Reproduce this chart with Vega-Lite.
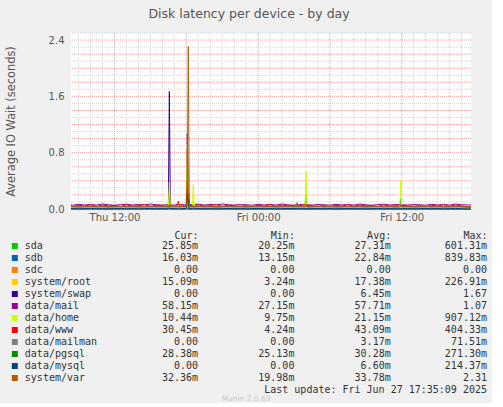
{
  "$schema": "https://vega.github.io/schema/vega-lite/v6.json",
  "background": "#F0F0F0",
  "padding": {"left": 5, "top": 8, "right": 5, "bottom": 0},
  "spacing": 8,
  "title": {
    "text": "Munin 2.0.63",
    "orient": "bottom",
    "anchor": "middle",
    "font": "DejaVu Sans",
    "fontSize": 7.5,
    "fontWeight": "normal",
    "color": "#C8C8C8",
    "offset": 0
  },
  "config": {"view": {"stroke": null}},
  "datasets": {
    "series": [
      {"t":"2025-06-26T08:22","sda":0.027,"sdb":0.020,"sdc":0,"root":0.016,"swap":0,"mail":0.060,"home":0.020,"www":0.048,"mailman":0.002,"pgsql":0.030,"mysql":0.004,"var":0.034},
      {"t":"2025-06-26T08:30","sda":0.026,"sdb":0.018,"sdc":0,"root":0.018,"swap":0,"mail":0.055,"home":0.022,"www":0.035,"mailman":0.001,"pgsql":0.031,"mysql":0.006,"var":0.036},
      {"t":"2025-06-26T09:00","sda":0.028,"sdb":0.021,"sdc":0,"root":0.015,"swap":0,"mail":0.066,"home":0.019,"www":0.052,"mailman":0.002,"pgsql":0.029,"mysql":0.003,"var":0.033},
      {"t":"2025-06-26T09:30","sda":0.027,"sdb":0.019,"sdc":0,"root":0.017,"swap":0,"mail":0.058,"home":0.021,"www":0.041,"mailman":0.002,"pgsql":0.030,"mysql":0.005,"var":0.035},
      {"t":"2025-06-26T10:00","sda":0.029,"sdb":0.022,"sdc":0,"root":0.019,"swap":0.001,"mail":0.063,"home":0.023,"www":0.060,"mailman":0.003,"pgsql":0.032,"mysql":0.008,"var":0.037},
      {"t":"2025-06-26T10:30","sda":0.027,"sdb":0.020,"sdc":0,"root":0.016,"swap":0,"mail":0.056,"home":0.020,"www":0.038,"mailman":0.002,"pgsql":0.030,"mysql":0.004,"var":0.034},
      {"t":"2025-06-26T11:00","sda":0.026,"sdb":0.018,"sdc":0,"root":0.018,"swap":0,"mail":0.071,"home":0.022,"www":0.055,"mailman":0.001,"pgsql":0.031,"mysql":0.006,"var":0.036},
      {"t":"2025-06-26T11:30","sda":0.028,"sdb":0.021,"sdc":0,"root":0.015,"swap":0,"mail":0.060,"home":0.019,"www":0.044,"mailman":0.002,"pgsql":0.029,"mysql":0.003,"var":0.033},
      {"t":"2025-06-26T12:00","sda":0.027,"sdb":0.019,"sdc":0,"root":0.017,"swap":0,"mail":0.054,"home":0.021,"www":0.050,"mailman":0.002,"pgsql":0.030,"mysql":0.005,"var":0.035},
      {"t":"2025-06-26T12:30","sda":0.029,"sdb":0.022,"sdc":0,"root":0.019,"swap":0,"mail":0.062,"home":0.023,"www":0.036,"mailman":0.003,"pgsql":0.032,"mysql":0.008,"var":0.037},
      {"t":"2025-06-26T13:00","sda":0.027,"sdb":0.020,"sdc":0,"root":0.016,"swap":0,"mail":0.068,"home":0.020,"www":0.058,"mailman":0.002,"pgsql":0.030,"mysql":0.004,"var":0.034},
      {"t":"2025-06-26T13:30","sda":0.026,"sdb":0.018,"sdc":0,"root":0.018,"swap":0,"mail":0.057,"home":0.022,"www":0.042,"mailman":0.001,"pgsql":0.031,"mysql":0.006,"var":0.036},
      {"t":"2025-06-26T14:00","sda":0.028,"sdb":0.021,"sdc":0,"root":0.015,"swap":0,"mail":0.064,"home":0.019,"www":0.047,"mailman":0.002,"pgsql":0.029,"mysql":0.003,"var":0.033},
      {"t":"2025-06-26T14:30","sda":0.027,"sdb":0.019,"sdc":0,"root":0.017,"swap":0,"mail":0.059,"home":0.021,"www":0.062,"mailman":0.002,"pgsql":0.030,"mysql":0.005,"var":0.035},
      {"t":"2025-06-26T15:00","sda":0.029,"sdb":0.022,"sdc":0,"root":0.019,"swap":0,"mail":0.070,"home":0.023,"www":0.039,"mailman":0.003,"pgsql":0.032,"mysql":0.008,"var":0.037},
      {"t":"2025-06-26T15:30","sda":0.027,"sdb":0.020,"sdc":0,"root":0.016,"swap":0,"mail":0.061,"home":0.020,"www":0.053,"mailman":0.002,"pgsql":0.030,"mysql":0.004,"var":0.034},
      {"t":"2025-06-26T16:00","sda":0.026,"sdb":0.018,"sdc":0,"root":0.018,"swap":0,"mail":0.056,"home":0.022,"www":0.045,"mailman":0.001,"pgsql":0.031,"mysql":0.006,"var":0.036},
      {"t":"2025-06-26T16:30","sda":0.028,"sdb":0.021,"sdc":0,"root":0.015,"swap":0,"mail":0.063,"home":0.019,"www":0.040,"mailman":0.002,"pgsql":0.029,"mysql":0.003,"var":0.033},
      {"t":"2025-06-26T16:35","sda":0.200,"sdb":0.050,"sdc":0,"root":0.030,"swap":1.670,"mail":0.080,"home":0.380,"www":0.060,"mailman":0.005,"pgsql":0.040,"mysql":0.010,"var":0.050},
      {"t":"2025-06-26T16:40","sda":0.027,"sdb":0.019,"sdc":0,"root":0.017,"swap":0,"mail":0.060,"home":0.021,"www":0.048,"mailman":0.002,"pgsql":0.030,"mysql":0.005,"var":0.035},
      {"t":"2025-06-26T17:00","sda":0.029,"sdb":0.022,"sdc":0,"root":0.019,"swap":0,"mail":0.055,"home":0.023,"www":0.035,"mailman":0.003,"pgsql":0.032,"mysql":0.008,"var":0.037},
      {"t":"2025-06-26T17:15","sda":0.027,"sdb":0.020,"sdc":0,"root":0.016,"swap":0,"mail":0.066,"home":0.020,"www":0.052,"mailman":0.002,"pgsql":0.030,"mysql":0.004,"var":0.034},
      {"t":"2025-06-26T17:20","sda":0.026,"sdb":0.018,"sdc":0,"root":0.018,"swap":0,"mail":0.062,"home":0.022,"www":0.110,"mailman":0.001,"pgsql":0.031,"mysql":0.006,"var":0.036},
      {"t":"2025-06-26T17:25","sda":0.028,"sdb":0.021,"sdc":0,"root":0.015,"swap":0,"mail":0.058,"home":0.019,"www":0.041,"mailman":0.002,"pgsql":0.029,"mysql":0.003,"var":0.033},
      {"t":"2025-06-26T17:30","sda":0.027,"sdb":0.019,"sdc":0,"root":0.017,"swap":0,"mail":0.063,"home":0.021,"www":0.060,"mailman":0.002,"pgsql":0.030,"mysql":0.005,"var":0.035},
      {"t":"2025-06-26T18:00","sda":0.029,"sdb":0.022,"sdc":0,"root":0.019,"swap":0,"mail":0.056,"home":0.023,"www":0.038,"mailman":0.003,"pgsql":0.032,"mysql":0.008,"var":0.037},
      {"t":"2025-06-26T18:05","sda":0.601,"sdb":0.840,"sdc":0,"root":0.227,"swap":0.010,"mail":1.070,"home":0.907,"www":0.404,"mailman":0.072,"pgsql":0.271,"mysql":0.214,"var":0.300},
      {"t":"2025-06-26T18:10","sda":0.100,"sdb":0.080,"sdc":0,"root":0.050,"swap":0,"mail":0.300,"home":0.200,"www":0.150,"mailman":0.010,"pgsql":0.080,"mysql":0.040,"var":2.310},
      {"t":"2025-06-26T18:15","sda":0.027,"sdb":0.020,"sdc":0,"root":0.016,"swap":0,"mail":0.071,"home":0.020,"www":0.055,"mailman":0.002,"pgsql":0.030,"mysql":0.004,"var":0.034},
      {"t":"2025-06-26T18:30","sda":0.026,"sdb":0.018,"sdc":0,"root":0.018,"swap":0,"mail":0.060,"home":0.022,"www":0.044,"mailman":0.001,"pgsql":0.031,"mysql":0.006,"var":0.036},
      {"t":"2025-06-26T18:35","sda":0.028,"sdb":0.021,"sdc":0,"root":0.015,"swap":0,"mail":0.054,"home":0.350,"www":0.050,"mailman":0.002,"pgsql":0.029,"mysql":0.003,"var":0.033},
      {"t":"2025-06-26T18:40","sda":0.027,"sdb":0.019,"sdc":0,"root":0.017,"swap":0,"mail":0.062,"home":0.021,"www":0.036,"mailman":0.002,"pgsql":0.030,"mysql":0.005,"var":0.035},
      {"t":"2025-06-26T19:00","sda":0.029,"sdb":0.022,"sdc":0,"root":0.019,"swap":0,"mail":0.068,"home":0.023,"www":0.058,"mailman":0.003,"pgsql":0.032,"mysql":0.008,"var":0.037},
      {"t":"2025-06-26T19:30","sda":0.027,"sdb":0.020,"sdc":0,"root":0.016,"swap":0,"mail":0.057,"home":0.020,"www":0.042,"mailman":0.002,"pgsql":0.030,"mysql":0.004,"var":0.034},
      {"t":"2025-06-26T20:00","sda":0.026,"sdb":0.018,"sdc":0,"root":0.018,"swap":0,"mail":0.064,"home":0.022,"www":0.047,"mailman":0.001,"pgsql":0.031,"mysql":0.006,"var":0.036},
      {"t":"2025-06-26T20:30","sda":0.028,"sdb":0.021,"sdc":0,"root":0.015,"swap":0,"mail":0.059,"home":0.019,"www":0.062,"mailman":0.002,"pgsql":0.029,"mysql":0.003,"var":0.033},
      {"t":"2025-06-26T21:00","sda":0.027,"sdb":0.019,"sdc":0,"root":0.017,"swap":0,"mail":0.070,"home":0.021,"www":0.039,"mailman":0.002,"pgsql":0.030,"mysql":0.005,"var":0.035},
      {"t":"2025-06-26T21:30","sda":0.029,"sdb":0.022,"sdc":0,"root":0.019,"swap":0,"mail":0.061,"home":0.023,"www":0.053,"mailman":0.003,"pgsql":0.032,"mysql":0.008,"var":0.037},
      {"t":"2025-06-26T22:00","sda":0.027,"sdb":0.020,"sdc":0,"root":0.016,"swap":0,"mail":0.056,"home":0.020,"www":0.045,"mailman":0.002,"pgsql":0.030,"mysql":0.004,"var":0.034},
      {"t":"2025-06-26T22:30","sda":0.026,"sdb":0.018,"sdc":0,"root":0.018,"swap":0,"mail":0.063,"home":0.022,"www":0.040,"mailman":0.001,"pgsql":0.031,"mysql":0.006,"var":0.036},
      {"t":"2025-06-26T23:00","sda":0.028,"sdb":0.021,"sdc":0,"root":0.015,"swap":0,"mail":0.060,"home":0.019,"www":0.048,"mailman":0.002,"pgsql":0.029,"mysql":0.003,"var":0.033},
      {"t":"2025-06-26T23:30","sda":0.027,"sdb":0.019,"sdc":0,"root":0.017,"swap":0,"mail":0.055,"home":0.021,"www":0.035,"mailman":0.002,"pgsql":0.030,"mysql":0.005,"var":0.035},
      {"t":"2025-06-27T00:00","sda":0.029,"sdb":0.022,"sdc":0,"root":0.019,"swap":0,"mail":0.066,"home":0.023,"www":0.052,"mailman":0.003,"pgsql":0.032,"mysql":0.008,"var":0.037},
      {"t":"2025-06-27T00:30","sda":0.027,"sdb":0.020,"sdc":0,"root":0.016,"swap":0,"mail":0.058,"home":0.020,"www":0.041,"mailman":0.002,"pgsql":0.030,"mysql":0.004,"var":0.034},
      {"t":"2025-06-27T01:00","sda":0.026,"sdb":0.018,"sdc":0,"root":0.018,"swap":0,"mail":0.063,"home":0.022,"www":0.060,"mailman":0.001,"pgsql":0.031,"mysql":0.006,"var":0.036},
      {"t":"2025-06-27T01:30","sda":0.028,"sdb":0.021,"sdc":0,"root":0.015,"swap":0,"mail":0.056,"home":0.019,"www":0.038,"mailman":0.002,"pgsql":0.029,"mysql":0.003,"var":0.033},
      {"t":"2025-06-27T02:00","sda":0.027,"sdb":0.019,"sdc":0,"root":0.017,"swap":0,"mail":0.071,"home":0.021,"www":0.055,"mailman":0.002,"pgsql":0.030,"mysql":0.005,"var":0.035},
      {"t":"2025-06-27T02:30","sda":0.029,"sdb":0.022,"sdc":0,"root":0.019,"swap":0,"mail":0.060,"home":0.023,"www":0.044,"mailman":0.003,"pgsql":0.032,"mysql":0.008,"var":0.037},
      {"t":"2025-06-27T03:00","sda":0.027,"sdb":0.020,"sdc":0,"root":0.016,"swap":0,"mail":0.054,"home":0.020,"www":0.050,"mailman":0.002,"pgsql":0.030,"mysql":0.004,"var":0.034},
      {"t":"2025-06-27T03:10","sda":0.026,"sdb":0.018,"sdc":0,"root":0.018,"swap":0,"mail":0.062,"home":0.022,"www":0.036,"mailman":0.001,"pgsql":0.031,"mysql":0.006,"var":0.036},
      {"t":"2025-06-27T03:15","sda":0.028,"sdb":0.021,"sdc":0,"root":0.015,"swap":0,"mail":0.068,"home":0.019,"www":0.058,"mailman":0.002,"pgsql":0.029,"mysql":0.003,"var":0.090},
      {"t":"2025-06-27T03:20","sda":0.027,"sdb":0.019,"sdc":0,"root":0.017,"swap":0,"mail":0.057,"home":0.021,"www":0.042,"mailman":0.002,"pgsql":0.030,"mysql":0.005,"var":0.035},
      {"t":"2025-06-27T03:30","sda":0.029,"sdb":0.022,"sdc":0,"root":0.019,"swap":0,"mail":0.064,"home":0.023,"www":0.047,"mailman":0.003,"pgsql":0.032,"mysql":0.008,"var":0.037},
      {"t":"2025-06-27T03:55","sda":0.027,"sdb":0.020,"sdc":0,"root":0.016,"swap":0,"mail":0.059,"home":0.020,"www":0.062,"mailman":0.002,"pgsql":0.030,"mysql":0.004,"var":0.034},
      {"t":"2025-06-27T04:00","sda":0.200,"sdb":0.030,"sdc":0,"root":0.030,"swap":0,"mail":0.070,"home":0.540,"www":0.050,"mailman":0.002,"pgsql":0.040,"mysql":0.006,"var":0.040},
      {"t":"2025-06-27T04:05","sda":0.028,"sdb":0.021,"sdc":0,"root":0.015,"swap":0,"mail":0.061,"home":0.019,"www":0.053,"mailman":0.002,"pgsql":0.029,"mysql":0.003,"var":0.033},
      {"t":"2025-06-27T04:30","sda":0.027,"sdb":0.019,"sdc":0,"root":0.017,"swap":0,"mail":0.056,"home":0.021,"www":0.045,"mailman":0.002,"pgsql":0.030,"mysql":0.005,"var":0.035},
      {"t":"2025-06-27T05:00","sda":0.029,"sdb":0.022,"sdc":0,"root":0.019,"swap":0,"mail":0.063,"home":0.023,"www":0.040,"mailman":0.003,"pgsql":0.032,"mysql":0.008,"var":0.037},
      {"t":"2025-06-27T05:30","sda":0.027,"sdb":0.020,"sdc":0,"root":0.016,"swap":0,"mail":0.060,"home":0.020,"www":0.048,"mailman":0.002,"pgsql":0.030,"mysql":0.004,"var":0.034},
      {"t":"2025-06-27T06:00","sda":0.026,"sdb":0.018,"sdc":0,"root":0.018,"swap":0,"mail":0.055,"home":0.022,"www":0.035,"mailman":0.001,"pgsql":0.031,"mysql":0.006,"var":0.036},
      {"t":"2025-06-27T06:30","sda":0.028,"sdb":0.021,"sdc":0,"root":0.015,"swap":0,"mail":0.066,"home":0.019,"www":0.052,"mailman":0.002,"pgsql":0.029,"mysql":0.003,"var":0.033},
      {"t":"2025-06-27T07:00","sda":0.027,"sdb":0.019,"sdc":0,"root":0.017,"swap":0,"mail":0.058,"home":0.021,"www":0.041,"mailman":0.002,"pgsql":0.030,"mysql":0.005,"var":0.035},
      {"t":"2025-06-27T07:30","sda":0.029,"sdb":0.022,"sdc":0,"root":0.019,"swap":0,"mail":0.063,"home":0.023,"www":0.060,"mailman":0.003,"pgsql":0.032,"mysql":0.008,"var":0.037},
      {"t":"2025-06-27T08:00","sda":0.027,"sdb":0.020,"sdc":0,"root":0.016,"swap":0,"mail":0.056,"home":0.020,"www":0.038,"mailman":0.002,"pgsql":0.030,"mysql":0.004,"var":0.034},
      {"t":"2025-06-27T08:30","sda":0.026,"sdb":0.018,"sdc":0,"root":0.018,"swap":0,"mail":0.071,"home":0.022,"www":0.055,"mailman":0.001,"pgsql":0.031,"mysql":0.006,"var":0.036},
      {"t":"2025-06-27T09:00","sda":0.028,"sdb":0.021,"sdc":0,"root":0.015,"swap":0,"mail":0.060,"home":0.019,"www":0.044,"mailman":0.002,"pgsql":0.029,"mysql":0.003,"var":0.033},
      {"t":"2025-06-27T09:30","sda":0.027,"sdb":0.019,"sdc":0,"root":0.017,"swap":0,"mail":0.054,"home":0.021,"www":0.050,"mailman":0.002,"pgsql":0.030,"mysql":0.005,"var":0.035},
      {"t":"2025-06-27T10:00","sda":0.029,"sdb":0.022,"sdc":0,"root":0.019,"swap":0,"mail":0.062,"home":0.023,"www":0.036,"mailman":0.003,"pgsql":0.032,"mysql":0.008,"var":0.037},
      {"t":"2025-06-27T10:30","sda":0.027,"sdb":0.020,"sdc":0,"root":0.016,"swap":0,"mail":0.068,"home":0.020,"www":0.058,"mailman":0.002,"pgsql":0.030,"mysql":0.004,"var":0.034},
      {"t":"2025-06-27T11:00","sda":0.026,"sdb":0.018,"sdc":0,"root":0.018,"swap":0,"mail":0.057,"home":0.022,"www":0.042,"mailman":0.001,"pgsql":0.031,"mysql":0.006,"var":0.036},
      {"t":"2025-06-27T11:30","sda":0.028,"sdb":0.021,"sdc":0,"root":0.015,"swap":0,"mail":0.064,"home":0.019,"www":0.047,"mailman":0.002,"pgsql":0.029,"mysql":0.003,"var":0.033},
      {"t":"2025-06-27T11:50","sda":0.027,"sdb":0.019,"sdc":0,"root":0.017,"swap":0,"mail":0.059,"home":0.021,"www":0.062,"mailman":0.002,"pgsql":0.030,"mysql":0.005,"var":0.035},
      {"t":"2025-06-27T11:55","sda":0.150,"sdb":0.030,"sdc":0,"root":0.030,"swap":0,"mail":0.070,"home":0.410,"www":0.050,"mailman":0.002,"pgsql":0.040,"mysql":0.006,"var":0.040},
      {"t":"2025-06-27T12:00","sda":0.027,"sdb":0.020,"sdc":0,"root":0.016,"swap":0,"mail":0.061,"home":0.020,"www":0.053,"mailman":0.002,"pgsql":0.030,"mysql":0.004,"var":0.034},
      {"t":"2025-06-27T12:30","sda":0.026,"sdb":0.018,"sdc":0,"root":0.018,"swap":0,"mail":0.056,"home":0.022,"www":0.045,"mailman":0.001,"pgsql":0.031,"mysql":0.006,"var":0.036},
      {"t":"2025-06-27T13:00","sda":0.028,"sdb":0.021,"sdc":0,"root":0.015,"swap":0,"mail":0.063,"home":0.019,"www":0.040,"mailman":0.002,"pgsql":0.029,"mysql":0.003,"var":0.033},
      {"t":"2025-06-27T13:30","sda":0.027,"sdb":0.019,"sdc":0,"root":0.017,"swap":0,"mail":0.060,"home":0.021,"www":0.048,"mailman":0.002,"pgsql":0.030,"mysql":0.005,"var":0.035},
      {"t":"2025-06-27T14:00","sda":0.029,"sdb":0.022,"sdc":0,"root":0.019,"swap":0,"mail":0.055,"home":0.023,"www":0.035,"mailman":0.003,"pgsql":0.032,"mysql":0.008,"var":0.037},
      {"t":"2025-06-27T14:30","sda":0.027,"sdb":0.020,"sdc":0,"root":0.016,"swap":0,"mail":0.066,"home":0.020,"www":0.052,"mailman":0.002,"pgsql":0.030,"mysql":0.004,"var":0.034},
      {"t":"2025-06-27T15:00","sda":0.026,"sdb":0.018,"sdc":0,"root":0.018,"swap":0,"mail":0.058,"home":0.022,"www":0.041,"mailman":0.001,"pgsql":0.031,"mysql":0.006,"var":0.036},
      {"t":"2025-06-27T15:30","sda":0.028,"sdb":0.021,"sdc":0,"root":0.015,"swap":0,"mail":0.063,"home":0.019,"www":0.060,"mailman":0.002,"pgsql":0.029,"mysql":0.003,"var":0.033},
      {"t":"2025-06-27T16:00","sda":0.027,"sdb":0.019,"sdc":0,"root":0.017,"swap":0,"mail":0.056,"home":0.021,"www":0.038,"mailman":0.002,"pgsql":0.030,"mysql":0.005,"var":0.035},
      {"t":"2025-06-27T16:30","sda":0.029,"sdb":0.022,"sdc":0,"root":0.019,"swap":0,"mail":0.071,"home":0.023,"www":0.055,"mailman":0.003,"pgsql":0.032,"mysql":0.008,"var":0.037},
      {"t":"2025-06-27T17:00","sda":0.027,"sdb":0.020,"sdc":0,"root":0.016,"swap":0,"mail":0.060,"home":0.020,"www":0.044,"mailman":0.002,"pgsql":0.030,"mysql":0.004,"var":0.034},
      {"t":"2025-06-27T17:35","sda":0.026,"sdb":0.016,"sdc":0,"root":0.015,"swap":0,"mail":0.058,"home":0.010,"www":0.030,"mailman":0,"pgsql":0.028,"mysql":0,"var":0.032},
      {"t":"2025-06-27T17:47","sda":0.026,"sdb":0.016,"sdc":0,"root":0.015,"swap":0,"mail":0.058,"home":0.010,"www":0.030,"mailman":0,"pgsql":0.028,"mysql":0,"var":0.032}
    ],
    "minorx": [
      {"t":"2025-06-26T09:00"}, {"t":"2025-06-26T10:00"}, {"t":"2025-06-26T11:00"}, {"t":"2025-06-26T13:00"}, {"t":"2025-06-26T14:00"}, {"t":"2025-06-26T15:00"}, {"t":"2025-06-26T16:00"}, {"t":"2025-06-26T17:00"},
      {"t":"2025-06-26T19:00"}, {"t":"2025-06-26T20:00"}, {"t":"2025-06-26T21:00"}, {"t":"2025-06-26T22:00"}, {"t":"2025-06-26T23:00"},
      {"t":"2025-06-27T01:00"}, {"t":"2025-06-27T02:00"}, {"t":"2025-06-27T03:00"}, {"t":"2025-06-27T04:00"}, {"t":"2025-06-27T05:00"},
      {"t":"2025-06-27T07:00"}, {"t":"2025-06-27T08:00"}, {"t":"2025-06-27T09:00"}, {"t":"2025-06-27T10:00"}, {"t":"2025-06-27T11:00"},
      {"t":"2025-06-27T13:00"}, {"t":"2025-06-27T14:00"}, {"t":"2025-06-27T15:00"}, {"t":"2025-06-27T16:00"}, {"t":"2025-06-27T17:00"}
    ],
    "majorx": [
      {"t":"2025-06-26T12:00"}, {"t":"2025-06-26T18:00"}, {"t":"2025-06-27T00:00"}, {"t":"2025-06-27T06:00"}, {"t":"2025-06-27T12:00"}
    ],
    "minory": [
      {"v":0.1}, {"v":0.3}, {"v":0.5}, {"v":0.7}, {"v":0.9}, {"v":1.1}, {"v":1.3}, {"v":1.5}, {"v":1.7}, {"v":1.9}, {"v":2.1}, {"v":2.3}, {"v":2.5}
    ],
    "majory": [
      {"v":0.2}, {"v":0.4}, {"v":0.6}, {"v":0.8}, {"v":1.0}, {"v":1.2}, {"v":1.4}, {"v":1.6}, {"v":1.8}, {"v":2.0}, {"v":2.2}, {"v":2.4}
    ],
    "legendrows": [
      {"k":"sda","name":"sda","cur":"25.85m","min":"20.25m","avg":"27.31m","max":"601.31m"},
      {"k":"sdb","name":"sdb","cur":"16.03m","min":"13.15m","avg":"22.84m","max":"839.83m"},
      {"k":"sdc","name":"sdc","cur":"0.00\u00a0","min":"0.00\u00a0","avg":"0.00\u00a0","max":"0.00\u00a0"},
      {"k":"root","name":"system/root","cur":"15.09m","min":"3.24m","avg":"17.38m","max":"226.91m"},
      {"k":"swap","name":"system/swap","cur":"0.00\u00a0","min":"0.00\u00a0","avg":"6.45m","max":"1.67\u00a0"},
      {"k":"mail","name":"data/mail","cur":"58.15m","min":"27.15m","avg":"57.71m","max":"1.07\u00a0"},
      {"k":"home","name":"data/home","cur":"10.44m","min":"9.75m","avg":"21.15m","max":"907.12m"},
      {"k":"www","name":"data/www","cur":"30.45m","min":"4.24m","avg":"43.09m","max":"404.33m"},
      {"k":"mailman","name":"data/mailman","cur":"0.00\u00a0","min":"0.00\u00a0","avg":"3.17m","max":"71.51m"},
      {"k":"pgsql","name":"data/pgsql","cur":"28.38m","min":"25.13m","avg":"30.28m","max":"271.30m"},
      {"k":"mysql","name":"data/mysql","cur":"0.00\u00a0","min":"0.00\u00a0","avg":"6.60m","max":"214.37m"},
      {"k":"var","name":"system/var","cur":"32.36m","min":"19.98m","avg":"33.78m","max":"2.31\u00a0"}
    ]
  },
  "vconcat": [
    {
      "width": 400,
      "height": 176,
      "title": {
        "text": "Disk latency per device - by day",
        "anchor": "middle",
        "dx": -22,
        "font": "DejaVu Sans",
        "fontSize": 12.5,
        "fontWeight": "normal",
        "color": "#555555",
        "offset": 12
      },
      "layer": [
        {
          "data": {"values": [{"part": "plot"}]},
          "mark": {"type": "rect", "color": "#FFFFFF"},
          "encoding": {}
        },
        {
          "data": {"name": "minorx"},
          "mark": {"type": "rule", "color": "#D4D4D4", "strokeWidth": 1, "strokeDash": [1, 1]},
          "encoding": {"x": {"field": "t", "type": "temporal", "title": null}}
        },
        {
          "data": {"name": "minory"},
          "mark": {"type": "rule", "color": "#D4D4D4", "strokeWidth": 1, "strokeDash": [1, 1]},
          "encoding": {"y": {"field": "v", "type": "quantitative", "title": "Average IO Wait (seconds)"}}
        },
        {
          "data": {"name": "majorx"},
          "mark": {"type": "rule", "color": "#F4A0A0", "strokeWidth": 1, "strokeDash": [1, 1]},
          "encoding": {"x": {"field": "t", "type": "temporal", "title": null}}
        },
        {
          "data": {"name": "majory"},
          "mark": {"type": "rule", "color": "#F4A0A0", "strokeWidth": 1, "strokeDash": [1, 1]},
          "encoding": {"y": {"field": "v", "type": "quantitative", "title": "Average IO Wait (seconds)"}}
        },
        {
          "data": {"name": "series"},
          "transform": [
            {"fold": ["sda", "sdb", "sdc", "root", "swap", "mail", "home", "www", "mailman", "pgsql", "mysql", "var"], "as": ["k", "v"]}
          ],
          "mark": {"type": "line", "strokeWidth": 1},
          "encoding": {
            "x": {
              "field": "t",
              "type": "temporal",
              "title": null,
              "scale": {"nice": false},
              "axis": {
                "title": null,
                "format": "%a %H:%M",
                "tickCount": 3,
                "grid": false,
                "ticks": false,
                "labelPadding": 3,
                "labelFont": "DejaVu Sans",
                "labelFontSize": 10,
                "labelColor": "#555555",
                "domainColor": "#CCCCFF"
              }
            },
            "y": {
              "field": "v",
              "type": "quantitative",
              "title": "Average IO Wait (seconds)",
              "scale": {"domain": [0, 2.5], "nice": false},
              "axis": {
                "title": "Average IO Wait (seconds)",
                "titleFont": "DejaVu Sans",
                "titleFontSize": 11.4,
                "titleFontWeight": "normal",
                "titleColor": "#555555",
                "titlePadding": 32,
                "values": [0, 0.2, 0.4, 0.6, 0.8, 1, 1.2, 1.4, 1.6, 1.8, 2, 2.2, 2.4],
                "format": ".1f",
                "labelOverlap": false,
                "grid": false,
                "ticks": false,
                "labelPadding": 7,
                "labelFont": "DejaVu Sans",
                "labelFontSize": 10,
                "labelColor": "#555555",
                "domainColor": "#CCCCFF"
              }
            },
            "color": {
              "field": "k",
              "type": "nominal",
              "legend": null,
              "scale": {
                "domain": ["sda", "sdb", "sdc", "root", "swap", "mail", "home", "www", "mailman", "pgsql", "mysql", "var"],
                "range": ["#00CC00", "#0066B3", "#FF8000", "#FFCC00", "#330099", "#990099", "#CCFF00", "#FF0000", "#808080", "#008F00", "#00487D", "#B35A00"]
              }
            }
          }
        }
      ]
    },
    {
      "width": 416,
      "height": {"step": 12},
      "data": {"name": "legendrows"},
      "title": {
        "text": "Last update: Fri Jun 27 17:35:09 2025",
        "orient": "bottom",
        "anchor": "end",
        "frame": "group",
        "font": "DejaVu Sans Mono",
        "fontSize": 10,
        "fontWeight": "normal",
        "color": "#333333",
        "offset": 1
      },
      "encoding": {
        "y": {
          "field": "name",
          "type": "nominal",
          "axis": null,
          "scale": {
            "type": "point",
            "padding": 0.5,
            "domain": ["sda", "sdb", "sdc", "system/root", "system/swap", "data/mail", "data/home", "data/www", "data/mailman", "data/pgsql", "data/mysql", "system/var"]
          }
        }
      },
      "layer": [
        {
          "mark": {"type": "point", "shape": "square", "filled": true, "size": 36, "opacity": 1, "xOffset": -87},
          "encoding": {
            "x": {"datum": "name", "type": "nominal"},
            "color": {
              "field": "k",
              "type": "nominal",
              "legend": null,
              "scale": {
                "domain": ["sda", "sdb", "sdc", "root", "swap", "mail", "home", "www", "mailman", "pgsql", "mysql", "var"],
                "range": ["#00CC00", "#0066B3", "#FF8000", "#FFCC00", "#330099", "#990099", "#CCFF00", "#FF0000", "#808080", "#008F00", "#00487D", "#B35A00"]
              }
            }
          }
        },
        {
          "mark": {"type": "text", "align": "left", "baseline": "middle", "xOffset": -77, "font": "DejaVu Sans Mono", "fontSize": 10, "color": "#333333"},
          "encoding": {
            "x": {"datum": "name", "type": "nominal"},
            "text": {"field": "name"}
          }
        },
        {
          "transform": [{"fold": ["cur", "min", "avg", "max"], "as": ["col", "val"]}],
          "mark": {"type": "text", "align": "right", "baseline": "middle", "font": "DejaVu Sans Mono", "fontSize": 10, "color": "#333333"},
          "encoding": {
            "x": {
              "field": "col",
              "type": "nominal",
              "title": null,
              "scale": {"type": "point", "domain": ["name", "cur", "min", "avg", "max"], "padding": 0.16, "align": 1},
              "axis": {
                "orient": "top",
                "labelExpr": "datum.value == 'cur' ? 'Cur:\u00a0\u00a0' : datum.value == 'min' ? 'Min:\u00a0\u00a0' : datum.value == 'avg' ? 'Avg:\u00a0\u00a0' : datum.value == 'max' ? 'Max:\u00a0\u00a0' : ''",
                "labelAlign": "right",
                "labelAngle": 0,
                "labelBaseline": "middle",
                "labelFont": "DejaVu Sans Mono",
                "labelFontSize": 10,
                "labelColor": "#333333",
                "labelPadding": 5,
                "ticks": false,
                "domain": false,
                "grid": false
              }
            },
            "text": {"field": "val"}
          }
        }
      ]
    }
  ]
}
